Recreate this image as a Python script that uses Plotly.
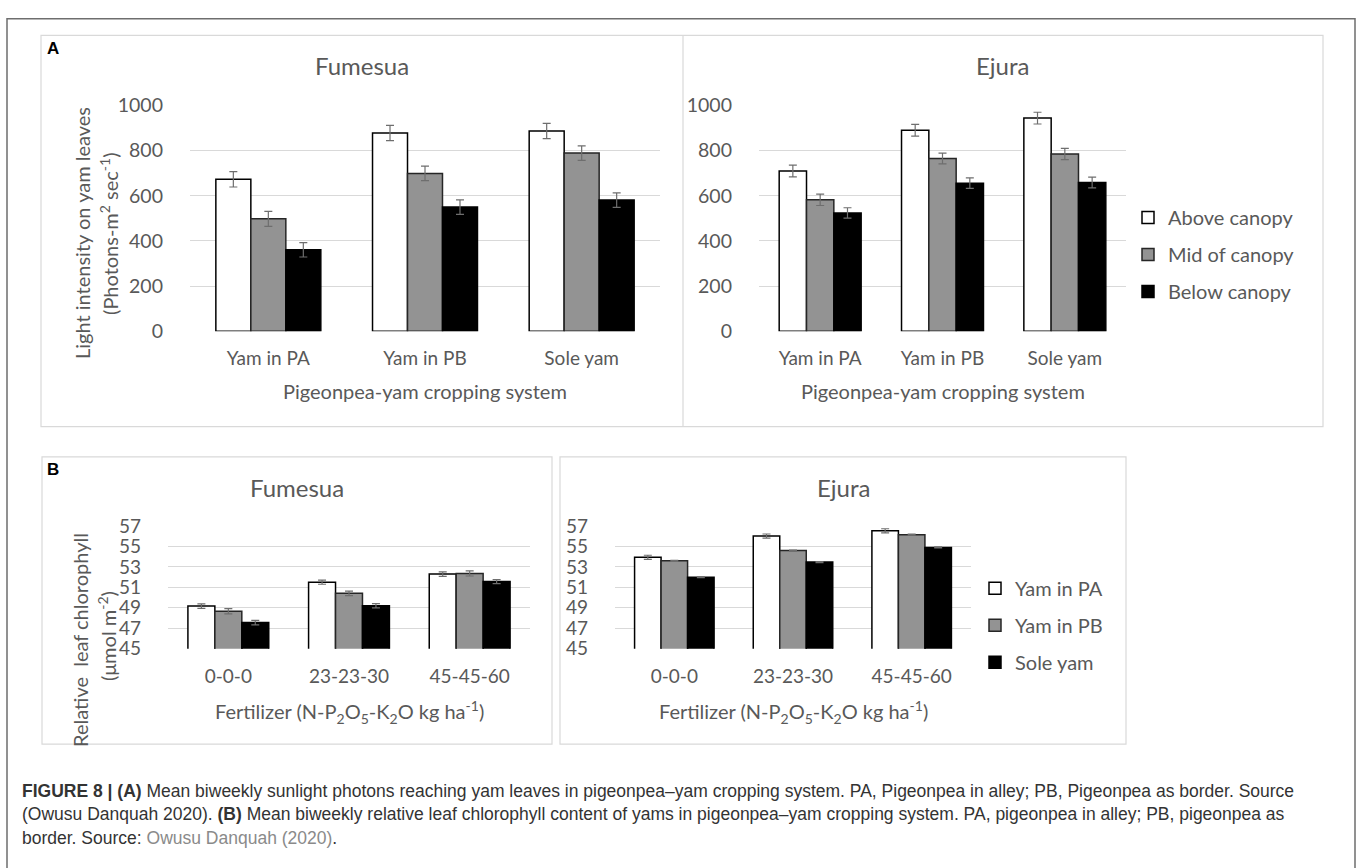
import plotly.graph_objects as go

W, H = 1357, 868


def fx(x):
    return x / W


def fy(y):
    return 1 - y / H


# ---------------- data: panel A (light intensity) ----------------
systems = ["Yam in PA", "Yam in PB", "Sole yam"]
canopy_levels = ["Above canopy", "Mid of canopy", "Below canopy"]

fum_above = [673, 878, 887]
fum_above_err = [34, 34, 34]
fum_mid = [498, 699, 789]
fum_mid_err = [33, 32, 32]
fum_below = [361, 550, 581]
fum_below_err = [32, 32, 32]

eju_above = [710, 890, 944]
eju_above_err = [26, 26, 26]
eju_mid = [582, 765, 785]
eju_mid_err = [25, 24, 25]
eju_below = [524, 656, 659]
eju_below_err = [23, 23, 24]

# ---------------- data: panel B (chlorophyll) ----------------
fertilizer = ["0-0-0", "23-23-30", "45-45-60"]
cropping = ["Yam in PA", "Yam in PB", "Sole yam"]

fum_pa = [49.17, 51.50, 52.30]
fum_pa_err = [0.22, 0.20, 0.22]
fum_pb = [48.66, 50.41, 52.36]
fum_pb_err = [0.25, 0.22, 0.25]
fum_sole = [47.55, 49.20, 51.56]
fum_sole_err = [0.22, 0.20, 0.20]

eju_pa = [53.94, 56.02, 56.53]
eju_pa_err = [0.20, 0.20, 0.20]
eju_pb = [53.60, 54.60, 56.15]
eju_pb_err = [0.05, 0.05, 0.05]
eju_sole = [51.99, 53.47, 54.90]
eju_sole_err = [0.05, 0.05, 0.05]

# ---------------- styling ----------------
FILLS = ["#ffffff", "#939393", "#000000"]
EDGES = ["#000000", "#262626", "#000000"]
TXT = "#595959"
FONT = "Lato"
GRID = "#d9d9d9"

fig = go.Figure()


def add_bars(xcats, vals, errs, names, xa, ya, legend, showlegend):
    for i, (v, e, n) in enumerate(zip(vals, errs, names)):
        fig.add_trace(go.Bar(
            x=xcats, y=v, name=n,
            xaxis=xa, yaxis=ya,
            marker=dict(color=FILLS[i], line=dict(color=EDGES[i], width=1.5)),
            error_y=dict(type="data", array=e, color="#6e6e6e",
                         thickness=1.2, width=4),
            legend=legend, legendgroup=f"{legend}{i}",
            showlegend=showlegend, hoverinfo="skip",
        ))


add_bars(systems, [fum_above, fum_mid, fum_below],
         [fum_above_err, fum_mid_err, fum_below_err],
         canopy_levels, "x", "y", "legend", False)
add_bars(systems, [eju_above, eju_mid, eju_below],
         [eju_above_err, eju_mid_err, eju_below_err],
         canopy_levels, "x2", "y2", "legend", True)
add_bars(fertilizer, [fum_pa, fum_pb, fum_sole],
         [fum_pa_err, fum_pb_err, fum_sole_err],
         cropping, "x3", "y3", "legend2", False)
add_bars(fertilizer, [eju_pa, eju_pb, eju_sole],
         [eju_pa_err, eju_pb_err, eju_sole_err],
         cropping, "x4", "y4", "legend2", True)


def xax(x0, x1, anchor, size):
    return dict(domain=[fx(x0), fx(x1)], anchor=anchor, showgrid=False,
                zeroline=False, showline=False, ticks="",
                tickfont=dict(family=FONT, size=size, color=TXT),
                ticklabelstandoff=14, fixedrange=True)


def yax(y_top, y_bot, anchor, rng, dtick, size):
    return dict(domain=[fy(y_bot), fy(y_top)], anchor=anchor, range=rng,
                tick0=rng[0], dtick=dtick, showgrid=True, gridcolor=GRID,
                gridwidth=1, zeroline=False, showline=False, ticks="",
                tickfont=dict(family=FONT, size=size, color=TXT),
                ticklabelstandoff=26, fixedrange=True)


legend_font = dict(family=FONT, size=20, color=TXT)

fig.update_layout(
    width=W, height=H,
    margin=dict(l=0, r=0, t=0, b=0),
    paper_bgcolor="white", plot_bgcolor="white",
    barmode="group", bargap=0.33, bargroupgap=0,
    hovermode=False,
    font=dict(family=FONT, color=TXT),
    xaxis=xax(190, 660, "y", 19),
    yaxis=yax(96, 328, "x", [0, 1000], 200, 19.5),
    xaxis2=xax(759, 1126, "y2", 19),
    yaxis2=yax(96, 328, "x2", [0, 1000], 200, 19.5),
    xaxis3=xax(168, 530, "y3", 19),
    yaxis3=yax(528, 654, "x3", [45, 57], 2, 19),
    xaxis4=xax(615, 971, "y4", 19),
    yaxis4=yax(528, 654, "x4", [45, 57], 2, 19),
    legend=dict(x=fx(1128), xanchor="left", y=fy(249), yanchor="middle",
                font=legend_font, bgcolor="rgba(0,0,0,0)",
                tracegroupgap=8, itemwidth=30),
    legend2=dict(x=fx(975), xanchor="left", y=fy(630), yanchor="middle",
                 font=legend_font, bgcolor="rgba(0,0,0,0)",
                 tracegroupgap=8, itemwidth=30),
)

# ---------------- boxes ----------------
shapes = [
    dict(type="rect", xref="paper", yref="paper", x0=fx(7), x1=fx(1355),
         y0=fy(880), y1=fy(7), line=dict(color="#6e6e6e", width=1.5)),
    dict(type="rect", xref="paper", yref="paper", x0=fx(41), x1=fx(1323),
         y0=fy(426), y1=fy(24), line=dict(color=GRID, width=1.2)),
    dict(type="line", xref="paper", yref="paper", x0=fx(683), x1=fx(683),
         y0=fy(426), y1=fy(24), line=dict(color=GRID, width=1.2)),
    dict(type="rect", xref="paper", yref="paper", x0=fx(42), x1=fx(552),
         y0=fy(752), y1=fy(457), line=dict(color=GRID, width=1.2)),
    dict(type="rect", xref="paper", yref="paper", x0=fx(560), x1=fx(1126),
         y0=fy(752), y1=fy(457), line=dict(color=GRID, width=1.2)),
]
fig.update_layout(shapes=shapes)


def note(text, x, y, size=20, color=TXT, angle=0, xanchor="center",
         family=FONT):
    fig.add_annotation(text=text, x=fx(x), y=fy(y), xref="paper",
                       yref="paper", showarrow=False, textangle=angle,
                       xanchor=xanchor, yanchor="middle",
                       font=dict(family=family, size=size, color=color))


# panel letters
note("<b>A</b>", 45, 38, size=17, color="#000000", xanchor="left",
     family="Liberation Sans")
note("<b>B</b>", 45, 470, size=17, color="#000000", xanchor="left",
     family="Liberation Sans")

# chart titles
note("Fumesua", 362, 55, size=24)
note("Ejura", 1003, 55, size=24)
note("Fumesua", 297, 488, size=24)
note("Ejura", 843, 488, size=24)

# axis titles
note("Pigeonpea-yam cropping system", 425, 389)
note("Pigeonpea-yam cropping system", 943, 389)
note("Fertilizer (N-P<sub>2</sub>O<sub>5</sub>-K<sub>2</sub>O kg ha<sup>-1</sup>)",
     349, 719)
note("Fertilizer (N-P<sub>2</sub>O<sub>5</sub>-K<sub>2</sub>O kg ha<sup>-1</sup>)",
     793, 719)
note("Light intensity on yam leaves", 82, 227, angle=-90)
note("(Photons-m<sup>2</sup> sec<sup>-1</sup>)", 109, 228, angle=-90)
note("Relative  leaf chlorophyll", 80, 645, angle=-90)
note("(μmol m<sup>-2</sup>)", 107, 641, angle=-90)

# caption
CAP = "Liberation Sans"
cap1 = ("<b>FIGURE 8 | (A)</b> Mean biweekly sunlight photons reaching yam leaves in "
        "pigeonpea–yam cropping system. PA, Pigeonpea in alley; PB, Pigeonpea as "
        "border. Source")
cap2 = ("(Owusu Danquah 2020). <b>(B)</b> Mean biweekly relative leaf chlorophyll "
        "content of yams in pigeonpea–yam cropping system. PA, pigeonpea in alley; "
        "PB, pigeonpea as")
cap3 = ("border. Source: <span style='color:#8a8a8a'>Owusu Danquah (2020)</span>.")
note(cap1, 20, 800, size=17.5, color="#333333", xanchor="left", family=CAP)
note(cap2, 20, 824, size=17.5, color="#333333", xanchor="left", family=CAP)
note(cap3, 20, 848, size=17.5, color="#333333", xanchor="left", family=CAP)

page_fix = (
    "document.documentElement.style.margin='0';"
    "document.body.style.margin='0';document.body.style.padding='0';"
    "document.body.style.overflow='hidden';"
    "var d=document.getElementById('{plot_id}');"
    "d.style.position='absolute';d.style.left='0px';d.style.top='0px';"
)

fig.write_html("out.html", post_script=page_fix,
               config={"displayModeBar": False, "staticPlot": False})
